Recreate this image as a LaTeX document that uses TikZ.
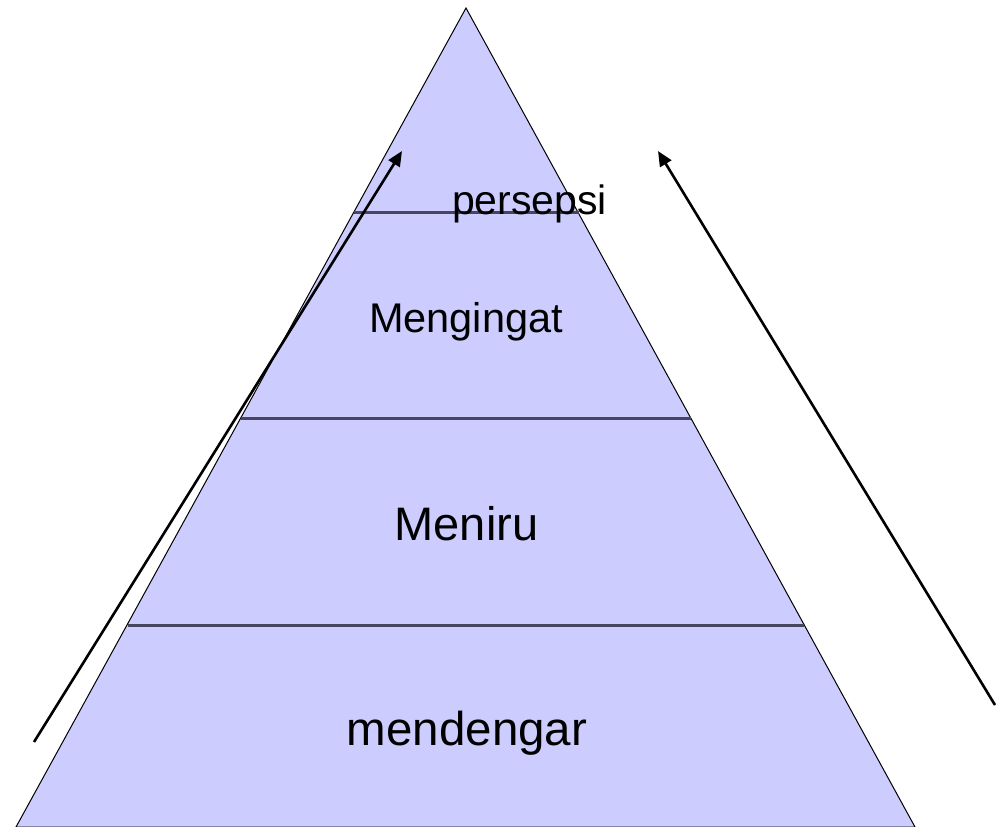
\documentclass[tikz,border=0pt]{standalone}
\usepackage{fontspec}
\setmainfont{Liberation Sans}
\usetikzlibrary{arrows.meta}
\definecolor{pyrfill}{RGB}{204,204,255}
\definecolor{divline}{RGB}{70,70,95}
\begin{document}
\begin{tikzpicture}[x=1pt,y=-1pt,
  pyr/.style={fill=pyrfill,draw=black,line width=1pt,line join=miter},
  divider/.style={draw=divline,line width=2.2pt},
  lbl/.style={anchor=base,inner sep=0pt,text=black},
  arr/.style={draw=black,line width=2.6pt,-{Triangle[length=15pt,width=13pt]}}]
\useasboundingbox (0,0) rectangle (996,827);
% pyramid
\coordinate (apex) at (466,8);
\coordinate (bl) at (16,827);
\coordinate (br) at (915,827);
\draw[pyr] (apex) -- (br) -- (bl) -- cycle;
% dividers
\coordinate (d1l) at (354,212.5);
\coordinate (d1r) at (579,212.5);
\coordinate (d2l) at (241,418.5);
\coordinate (d2r) at (691,418.5);
\coordinate (d3l) at (128,625.5);
\coordinate (d3r) at (804,625.5);
\draw[divider] (d1l) -- (d1r);
\draw[divider] (d2l) -- (d2r);
\draw[divider] (d3l) -- (d3r);
% labels
\node[lbl,font=\fontsize{41}{49}\selectfont] (persepsi) at (529.5,214) {persepsi};
\node[lbl,font=\fontsize{41.5}{49}\selectfont] (mengingat) at (466,332) {Mengingat};
\node[lbl,font=\fontsize{47}{56}\selectfont] (meniru) at (466.5,540) {Meniru};
\node[lbl,font=\fontsize{47.5}{56}\selectfont] (mendengar) at (467,745) {mendengar};
% arrows
\coordinate (la0) at (34,742);
\coordinate (la1) at (402,151);
\coordinate (ra0) at (995,705);
\coordinate (ra1) at (658,151);
\draw[arr] (la0) -- (la1);
\draw[arr] (ra0) -- (ra1);
\end{tikzpicture}
\end{document}
